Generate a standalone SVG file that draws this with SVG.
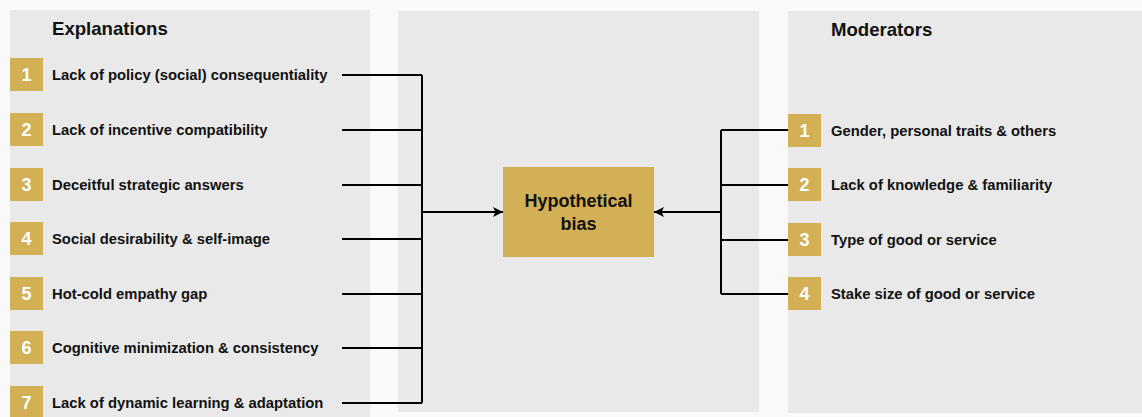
<svg xmlns="http://www.w3.org/2000/svg" width="1142" height="417" viewBox="0 0 1142 417">
  <style>
    .panel { fill: #e9e9e9; }
    .num { fill: #d3af55; }
    .numtxt { font-family: "Liberation Sans", Arial, sans-serif; font-weight: bold; font-size: 18px; fill: #ffffff; text-anchor: middle; }
    .lbl { font-family: "Liberation Sans", Arial, sans-serif; font-weight: bold; font-size: 14.8px; fill: #111111; }
    .title { font-family: "Liberation Sans", Arial, sans-serif; font-weight: bold; font-size: 18.6px; fill: #111111; }
    .hub { font-family: "Liberation Sans", Arial, sans-serif; font-weight: bold; font-size: 18px; fill: #111111; text-anchor: middle; }
    .wire { fill: none; stroke: #000000; stroke-width: 2; }
  </style>
  <defs>
    <marker id="arrow" viewBox="0 0 10 10" refX="10" refY="5" markerWidth="11" markerHeight="10" markerUnits="userSpaceOnUse" orient="auto">
      <path d="M0,0 L10,5 L0,10 L2.5,5 z" fill="#000000"/>
    </marker>
  </defs>

  <rect x="0" y="0" width="1142" height="417" fill="#f9f9f9"/>

  <!-- background panels -->
  <rect class="panel" x="10" y="10" width="360" height="407"/>
  <rect class="panel" x="398" y="11" width="361" height="401"/>
  <rect class="panel" x="788" y="11" width="354" height="402"/>

  <text class="title" x="52" y="35">Explanations</text>
  <text class="title" x="831" y="36">Moderators</text>

  <!-- connectors -->
  <g id="connectors">
    <path class="wire" d="M342,75 H422 M342,130 H422 M342,185 H422 M342,239 H422 M342,294 H422 M342,348 H422 M342,403 H422 M422,75 V403"/>
    <path class="wire" d="M422,212 H503" marker-end="url(#arrow)"/>
    <path class="wire" d="M788,130 H721 M788,185 H721 M788,240 H721 M788,294 H721 M721,130 V294"/>
    <path class="wire" d="M721,212 H654" marker-end="url(#arrow)"/>
  </g>

  <!-- explanations -->
  <g id="exp1"><rect class="num" x="10" y="58" width="33" height="33"/><text class="numtxt" x="26.5" y="81">1</text><text class="lbl" x="52" y="80">Lack of policy (social) consequentiality</text></g>
  <g id="exp2"><rect class="num" x="10" y="113" width="33" height="33"/><text class="numtxt" x="26.5" y="136">2</text><text class="lbl" x="52" y="135">Lack of incentive compatibility</text></g>
  <g id="exp3"><rect class="num" x="10" y="168" width="33" height="33"/><text class="numtxt" x="26.5" y="191">3</text><text class="lbl" x="52" y="190">Deceitful strategic answers</text></g>
  <g id="exp4"><rect class="num" x="10" y="222" width="33" height="33"/><text class="numtxt" x="26.5" y="245">4</text><text class="lbl" x="52" y="244">Social desirability &amp; self-image</text></g>
  <g id="exp5"><rect class="num" x="10" y="277" width="33" height="33"/><text class="numtxt" x="26.5" y="300">5</text><text class="lbl" x="52" y="299">Hot-cold empathy gap</text></g>
  <g id="exp6"><rect class="num" x="10" y="331" width="33" height="33"/><text class="numtxt" x="26.5" y="354">6</text><text class="lbl" x="52" y="353">Cognitive minimization &amp; consistency</text></g>
  <g id="exp7"><rect class="num" x="10" y="386" width="33" height="33"/><text class="numtxt" x="26.5" y="409">7</text><text class="lbl" x="52" y="408">Lack of dynamic learning &amp; adaptation</text></g>

  <!-- central node -->
  <g id="hypothetical-bias">
    <rect class="num" x="503" y="167" width="151" height="90"/>
    <text class="hub" x="578.5" y="207">Hypothetical</text>
    <text class="hub" x="578.5" y="230">bias</text>
  </g>

  <!-- moderators -->
  <g id="mod1"><rect class="num" x="788" y="114" width="33" height="33"/><text class="numtxt" x="804.5" y="137">1</text><text class="lbl" x="831" y="136">Gender, personal traits &amp; others</text></g>
  <g id="mod2"><rect class="num" x="788" y="168" width="33" height="33"/><text class="numtxt" x="804.5" y="191">2</text><text class="lbl" x="831" y="190">Lack of knowledge &amp; familiarity</text></g>
  <g id="mod3"><rect class="num" x="788" y="223" width="33" height="33"/><text class="numtxt" x="804.5" y="246">3</text><text class="lbl" x="831" y="245">Type of good or service</text></g>
  <g id="mod4"><rect class="num" x="788" y="277" width="33" height="33"/><text class="numtxt" x="804.5" y="300">4</text><text class="lbl" x="831" y="299">Stake size of good or service</text></g>
</svg>
